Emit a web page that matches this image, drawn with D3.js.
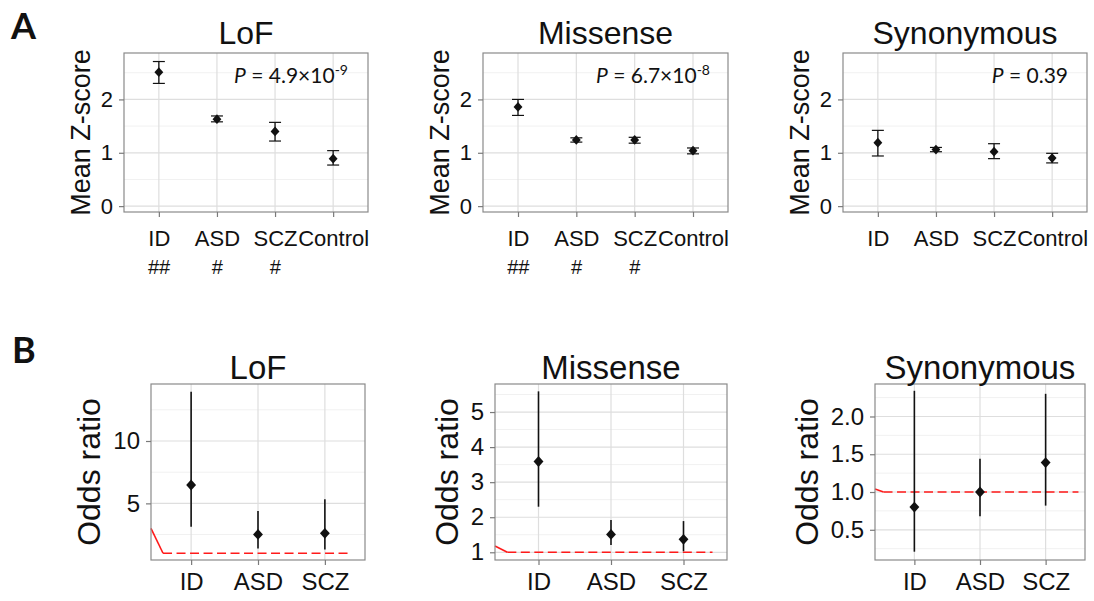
<!DOCTYPE html>
<html><head><meta charset="utf-8">
<script src="https://cdn.jsdelivr.net/npm/d3@7"></script>
<style>
body{margin:0;background:#fff}
svg{display:block}
text{font-family:"Liberation Sans",Arial,Helvetica,sans-serif;fill:#111}
</style>
</head><body>
<svg id="c" width="1094" height="601"></svg>
<script>
// ---------- data ----------
const catsA = ["ID", "ASD", "SCZ", "Control"];
const catsB = ["ID", "ASD", "SCZ"];
const hashMarks = ["##", "#", "#", ""];

const titles = ["LoF", "Missense", "Synonymous"];
const pMant = ["4.9×10", "6.7×10", "0.39"];
const pExp = ["-9", "-8", ""];

// Panel A: mean Z-score with error bars
const lofZ = [2.51, 1.63, 1.40, 0.89];
const lofZlo = [2.30, 1.58, 1.22, 0.77];
const lofZhi = [2.71, 1.69, 1.57, 1.04];
const misZ = [1.86, 1.24, 1.24, 1.04];
const misZlo = [1.70, 1.20, 1.18, 0.98];
const misZhi = [2.00, 1.28, 1.29, 1.09];
const synZ = [1.19, 1.06, 1.02, 0.90];
const synZlo = [0.94, 1.02, 0.89, 0.81];
const synZhi = [1.42, 1.10, 1.17, 0.99];
const zTicks = [0, 1, 2];
const zMinor = [0.5, 1.5, 2.5];

// Panel B: odds ratio with CIs
const lofOR = [6.47, 2.51, 2.60];
const lofORlo = [3.12, 1.39, 1.31];
const lofORhi = [13.95, 4.38, 5.34];
const misOR = [3.59, 1.51, 1.37];
const misORlo = [2.30, 1.21, 1.03];
const misORhi = [5.59, 1.92, 1.89];
const synOR = [0.80, 1.00, 1.39];
const synORlo = [0.21, 0.68, 0.82];
const synORhi = [2.34, 1.44, 2.30];

const lofTicks = [5, 10], lofMinor = [2.5, 7.5, 12.5];
const misTicks = [1, 2, 3, 4, 5], misMinor = [1.5, 2.5, 3.5, 4.5, 5.5];
const synTicks = [0.5, 1.0, 1.5, 2.0], synMinor = [0.25, 0.75, 1.25, 1.75, 2.25];
const synTickLabels = ["0.5", "1.0", "1.5", "2.0"];

// reference line (category index, odds ratio)
const lofRefSolid = [[0.4, 3.0], [0.58, 1]], lofRefDash = [[0.58, 1], [3.4, 1]];
const misRefSolid = [[0.4, 1.18], [0.57, 1]], misRefDash = [[0.57, 1], [3.4, 1]];
const synRefSolid = [[0.4, 1.04], [0.53, 1]], synRefDash = [[0.53, 1], [3.5, 1]];

// ---------- drawing ----------
const svg = d3.select("#c");
const GRID_MAJ = "#dedede", GRID_MIN = "#f1f1f1", BORDER = "#8a8a8a", TICK = "#7a7a7a";

function panel(o) {
  const g = svg.append("g");
  const x = d3.scalePoint().domain(o.cats).range([o.left, o.right]).padding(0.6);
  const y = d3.scaleLinear().domain(o.yDomain).range([o.bottom, o.top]);
  const step = x.step();
  const xi = i => x(o.cats[0]) + (i - 1) * step;

  // minor grid
  g.selectAll(".mn").data(o.minor.filter(v => y(v) > o.top && y(v) < o.bottom)).join("line")
    .attr("x1", o.left).attr("x2", o.right).attr("y1", d => y(d)).attr("y2", d => y(d))
    .attr("stroke", GRID_MIN).attr("stroke-width", 1);
  // major grid
  g.selectAll(".mj").data(o.ticks).join("line")
    .attr("x1", o.left).attr("x2", o.right).attr("y1", d => y(d)).attr("y2", d => y(d))
    .attr("stroke", GRID_MAJ).attr("stroke-width", 1.2);
  g.selectAll(".vx").data(o.cats).join("line")
    .attr("x1", d => x(d)).attr("x2", d => x(d)).attr("y1", o.top).attr("y2", o.bottom)
    .attr("stroke", GRID_MAJ).attr("stroke-width", 1.2);

  // reference line
  if (o.refSolid) {
    const ln = d3.line().x(d => xi(d[0])).y(d => y(d[1]));
    g.append("path").attr("d", ln(o.refSolid)).attr("fill", "none")
      .attr("stroke", "#ff1a1a").attr("stroke-width", 1.6);
    g.append("path").attr("d", ln(o.refDash)).attr("fill", "none")
      .attr("stroke", "#ff1a1a").attr("stroke-width", 1.6).attr("stroke-dasharray", "9,4.5");
  }

  // error bars
  const data = o.cats.map((c, i) => ({c, v: o.vals[i], lo: o.lo[i], hi: o.hi[i]}));
  g.selectAll(".eb").data(data).join("line")
    .attr("x1", d => x(d.c)).attr("x2", d => x(d.c))
    .attr("y1", d => y(d.lo)).attr("y2", d => y(d.hi))
    .attr("stroke", "#111").attr("stroke-width", o.ebWidth);
  if (o.caps) {
    ["lo", "hi"].forEach(k => {
      g.selectAll(".cap" + k).data(data).join("line")
        .attr("x1", d => x(d.c) - o.caps).attr("x2", d => x(d.c) + o.caps)
        .attr("y1", d => y(d[k])).attr("y2", d => y(d[k]))
        .attr("stroke", "#111").attr("stroke-width", 1.2);
    });
  }
  // points (diamonds)
  const sym = d3.symbol().type(d3.symbolDiamond2).size(o.ptSize);
  g.selectAll(".pt").data(data).join("path")
    .attr("transform", d => `translate(${x(d.c)},${y(d.v)}) scale(1,1.1)`)
    .attr("d", sym).attr("fill", "#111");

  // border
  g.append("rect").attr("x", o.left).attr("y", o.top)
    .attr("width", o.right - o.left).attr("height", o.bottom - o.top)
    .attr("fill", "none").attr("stroke", BORDER).attr("stroke-width", 1.2);

  // axes
  const ya = d3.axisLeft(y).tickValues(o.ticks).tickSize(5).tickPadding(o.yPad)
    .tickFormat((d, i) => o.tickLabels ? o.tickLabels[i] : d3.format("d")(d));
  const yg = g.append("g").attr("transform", `translate(${o.left},0)`).call(ya);
  yg.select(".domain").remove();
  yg.selectAll("line").attr("stroke", TICK).attr("stroke-width", 1.2);
  yg.selectAll("text").style("font-size", o.yTickSize + "px")
    .style("font-family", '"Liberation Sans",Arial,sans-serif').attr("fill", "#111");

  const xa = d3.axisBottom(x).tickSize(5).tickPadding(o.xPad);
  const xg = g.append("g").attr("transform", `translate(0,${o.bottom})`).call(xa);
  xg.select(".domain").remove();
  xg.selectAll("line").attr("stroke", TICK).attr("stroke-width", 1.2);
  xg.selectAll("text").style("font-size", o.xTickSize + "px")
    .style("font-family", '"Liberation Sans",Arial,sans-serif').attr("fill", "#111");

  // hash marks
  if (o.hash) {
    g.selectAll(".hs").data(o.cats.map((c, i) => ({c, t: o.hash[i]}))).join("text")
      .attr("x", d => x(d.c)).attr("y", o.hashY).attr("text-anchor", "middle")
      .style("font-size", "20px").style("font-style", "italic").text(d => d.t);
  }

  // title
  g.append("text").attr("x", (o.left + o.right) / 2).attr("y", o.titleY)
    .attr("text-anchor", "middle").style("font-size", o.titleSize + "px").text(o.title);

  // y label
  g.append("text").attr("transform", `translate(${o.left - o.ylabOff},${(o.top + o.bottom) / 2}) rotate(-90)`)
    .attr("text-anchor", "middle").style("font-size", o.ylabSize + "px").text(o.ylabel);

  // P value
  if (o.pm) {
    const t = g.append("text").attr("x", o.pX).attr("y", o.pY).attr("text-anchor", "end")
      .style("font-family", "Lato, 'Open Sans', sans-serif").style("font-size", "21px");
    t.append("tspan").style("font-style", "italic").text("P");
    t.append("tspan").text(" = " + o.pm);
    if (o.pe) t.append("tspan").attr("dy", -8).style("font-size", "14px").text(o.pe);
  }
}

const rowA = {top: 53, bottom: 212, yDomain: [-0.11, 2.87], ticks: zTicks, minor: zMinor,
  cats: catsA, caps: 6, ebWidth: 1.3, ptSize: 50, yPad: 6, xPad: 13, yTickSize: 22, xTickSize: 22,
  hash: null, hashY: 274, titleY: 44, titleSize: 32, ylabel: "Mean Z-score", ylabSize: 27, ylabOff: 34, pY: 83};
const AL = [[124, 368], [483, 728], [843, 1087]];
const Avals = [[lofZ, lofZlo, lofZhi], [misZ, misZlo, misZhi], [synZ, synZlo, synZhi]];
const Ahash = [hashMarks, hashMarks, null];
const pXs = [348, 710, 1068];
for (let k = 0; k < 3; k++) {
  panel(Object.assign({}, rowA, {left: AL[k][0], right: AL[k][1], vals: Avals[k][0], lo: Avals[k][1], hi: Avals[k][2],
    hash: Ahash[k], title: titles[k], pm: pMant[k], pe: pExp[k], pX: pXs[k]}));
}

const rowB = {top: 384, bottom: 560, cats: catsB, caps: 0, ebWidth: 1.6, ptSize: 62, yPad: 6, xPad: 8,
  yTickSize: 24, xTickSize: 24, titleY: 379, titleSize: 33, ylabel: "Odds ratio", ylabSize: 32};
const Bcfg = [
  {left: 151, right: 365, yDomain: [0.46, 14.57], ticks: lofTicks, minor: lofMinor, vals: lofOR, lo: lofORlo, hi: lofORhi,
   refSolid: lofRefSolid, refDash: lofRefDash, ylabOff: 51},
  {left: 495, right: 727, yDomain: [0.78, 5.8], ticks: misTicks, minor: misMinor, vals: misOR, lo: misORlo, hi: misORhi,
   refSolid: misRefSolid, refDash: misRefDash, ylabOff: 37},
  {left: 875, right: 1085, yDomain: [0.1, 2.43], ticks: synTicks, minor: synMinor, tickLabels: synTickLabels,
   vals: synOR, lo: synORlo, hi: synORhi, refSolid: synRefSolid, refDash: synRefDash, ylabOff: 57}
];
Bcfg.forEach((c, k) => panel(Object.assign({}, rowB, c, {title: titles[k]})));

// panel letters
svg.append("text").attr("x", 11).attr("y", 39).style("font-family", "Lato, sans-serif")
  .style("font-weight", "bold").style("font-size", "36px").text("A");
svg.append("text").attr("x", 12).attr("y", 363).style("font-family", "Lato, sans-serif")
  .style("font-weight", "bold").style("font-size", "36px").text("B");
</script>
</body></html>
